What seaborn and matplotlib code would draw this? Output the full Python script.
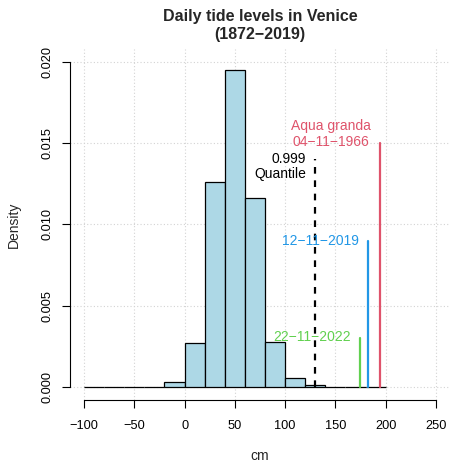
import matplotlib
matplotlib.use("Agg")
import matplotlib.pyplot as plt
import seaborn as sns
import numpy as np
import pandas as pd

# ---- data ----
bin_edges = [-100, -80, -60, -40, -20, 0, 20, 40, 60, 80, 100, 120, 140, 160, 180, 200]
density = [0.000005, 0.000005, 0.000008, 0.00003, 0.0003, 0.0027, 0.0126, 0.0195,
           0.0116, 0.0028, 0.00054, 0.00012, 0.00003, 0.00001, 0.000005]

quantile_cm = 130
quantile_top = 0.014
quantile_label = "0.999\nQuantile"

event_labels = ["Aqua granda\n04\u221211\u22121966", "12\u221211\u22122019", "22\u221211\u22122022"]
event_cm = [194, 182, 174]
event_top = [0.015, 0.009, 0.003]
event_colors = ["#DF536B", "#2297E6", "#61D04F"]

x_ticks = [-100, -50, 0, 50, 100, 150, 200, 250]
y_ticks = [0.000, 0.005, 0.010, 0.015, 0.020]

title = "Daily tide levels in Venice\n(1872\u22122019)"

# ---- figure ----
sns.set_style("white")
plt.rcParams["font.family"] = ["Liberation Sans", "DejaVu Sans"]
plt.rcParams["axes.unicode_minus"] = True

fig = plt.figure(figsize=(4.51, 4.62), dpi=100)
ax = fig.add_axes([70 / 451, 62 / 462, 380 / 451, 351 / 462])

centers = [(a + b) / 2 for a, b in zip(bin_edges[:-1], bin_edges[1:])]
df = pd.DataFrame({"cm": centers, "w": density})
sns.histplot(data=df, x="cm", weights="w", bins=bin_edges, stat="count",
             color="#ADD8E6", edgecolor="black", linewidth=0.9, alpha=1.0, ax=ax, zorder=2)

# grid (R-style dotted lightgray)
for xt in x_ticks:
    ax.axvline(xt, color="#D3D3D3", linestyle=(0, (1, 2)), linewidth=0.8, zorder=0)
for yt in y_ticks:
    ax.axhline(yt, color="#D3D3D3", linestyle=(0, (1, 2)), linewidth=0.8, zorder=0)

# quantile line
ax.plot([quantile_cm, quantile_cm], [0, quantile_top], color="black",
        linestyle=(0, (3, 3)), linewidth=1.6, zorder=3)
ax.annotate(quantile_label, xy=(quantile_cm, 0.01358), xytext=(-9, 0),
            textcoords="offset pixels", ha="right", va="center",
            fontsize=10, color="black", linespacing=1.1, multialignment="right")

# event lines
label_y = [0.01557, 0.009, 0.0031]
for lab, xv, top, col, ly in zip(event_labels, event_cm, event_top, event_colors, label_y):
    ax.plot([xv, xv], [0, top], color=col, linewidth=1.6, zorder=3)
    ax.annotate(lab, xy=(xv, ly), xytext=(-9, 0), textcoords="offset pixels",
                ha="right", va="center", fontsize=10, color=col, linespacing=1.1,
                multialignment="center")

ax.set_xlim(-114, 264)
ax.set_ylim(-0.0008, 0.0208)

for s in ["top", "right"]:
    ax.spines[s].set_visible(False)
ax.spines["left"].set_bounds(0, 0.02)
ax.spines["bottom"].set_bounds(-100, 250)
for s in ["left", "bottom"]:
    ax.spines[s].set_color("black")
    ax.spines[s].set_linewidth(0.8)

ax.set_xticks(x_ticks)
ax.set_xticklabels([f"{v}".replace("-", "\u2212") for v in x_ticks])
ax.set_yticks(y_ticks)
ax.set_yticklabels([f"{v:.3f}" for v in y_ticks], rotation=90, va="center")
ax.tick_params(axis="both", direction="out", length=5.8, width=0.8, color="black",
               labelsize=9.2, labelcolor="black")
ax.tick_params(axis="x", bottom=True, pad=8.5)
ax.tick_params(axis="y", left=True, pad=6)

ax.set_xlabel("cm", fontsize=10, labelpad=12)
ax.set_ylabel("Density", fontsize=10, labelpad=15)
ax.set_title(title, fontsize=11.5, fontweight="bold", pad=7, linespacing=1.25)

fig.savefig("out.png", dpi=100)
